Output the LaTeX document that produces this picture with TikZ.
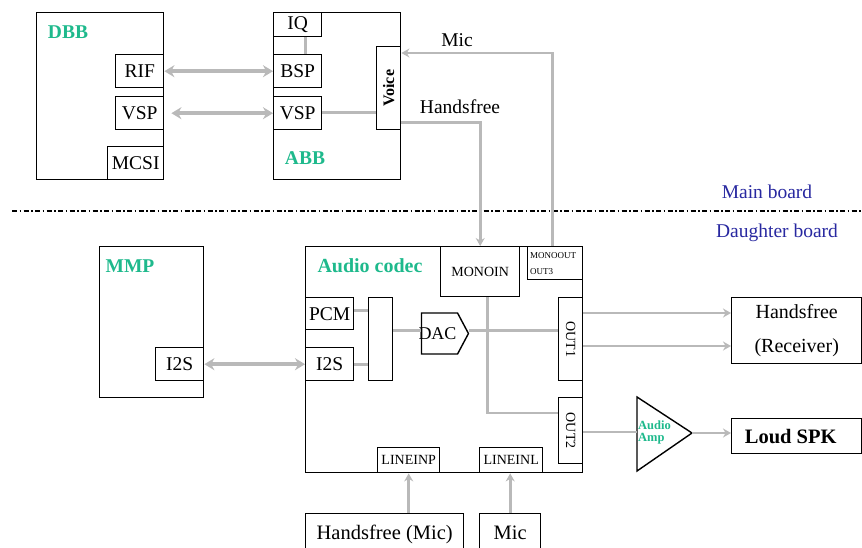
\documentclass[tikz,border=0pt]{standalone}
\usepackage{fontspec}
\setmainfont{Liberation Serif}
\usetikzlibrary{arrows.meta,calc,shapes.symbols}
\definecolor{tgreen}{RGB}{30,185,140}
\definecolor{tblue}{RGB}{40,40,160}
\definecolor{wire}{RGB}{185,185,185}
\tikzset{
  box/.style={draw=black, line width=1.4pt, anchor=north west, inner sep=0pt, font=\fontsize{19.5}{21}\selectfont},
  glab/.style={text=tgreen, font=\bfseries\fontsize{19.5}{21}\selectfont, inner sep=0pt},
  blab/.style={text=tblue, font=\fontsize{19.5}{21}\selectfont, inner sep=0pt},
  plab/.style={font=\fontsize{19.5}{21}\selectfont, inner sep=0pt},
  wline/.style={draw=wire, line width=2.8pt},
  warrow/.style={wline, -{Stealth[length=8pt,width=9pt]}},
  dbl/.style={draw=wire, line width=4pt, {Stealth[length=10pt,width=12pt]}-{Stealth[length=10pt,width=12pt]}},
}
\begin{document}
\begin{tikzpicture}[x=1pt,y=-1pt]
\useasboundingbox (0,0) rectangle (862,547);

% ---------- main board ----------
\node[box, minimum width=127, minimum height=167] (dbb) at (36,12) {};
\node[glab] (dbbl) at (68,32) {DBB};
\node[box, minimum width=48, minimum height=33] (rif) at (115,54) {RIF};
\node[box, minimum width=48, minimum height=33] (vsp1) at (115,96) {VSP};
\node[box, minimum width=56, minimum height=33] (mcsi) at (107,146) {MCSI};

\node[box, minimum width=127, minimum height=167] (abb) at (273,12) {};
\node[glab] (abbl) at (305,158) {ABB};
\node[box, minimum width=48, minimum height=24] (iq) at (273,12) {IQ};
\node[box, minimum width=48, minimum height=33] (bsp) at (273,54) {BSP};
\node[box, minimum width=48, minimum height=33] (vsp2) at (273,96) {VSP};
\node[box, minimum width=24, minimum height=83] (voice) at (376,46) {};
\node[rotate=90, font=\bfseries\fontsize{16}{18}\selectfont, inner sep=0pt] (voicel) at (voice.center) {Voice};

\draw[dbl] (rif.east) -- (bsp.west);
\draw[dbl] ([xshift=7]vsp1.east) -- (vsp2.west);
\draw[wline] ([xshift=8]iq.south) -- ([xshift=8]bsp.north);
\draw[wline] ($(vsp2.east)+(0,-1)$) -- ($(vsp2.east -| voice.west)+(0,-1)$);

\node[plab] (micl) at (457,40) {Mic};
\node[plab] (hfl) at (460,107) {Handsfree};

% separator
\draw[line width=1.4pt, dash pattern=on 5pt off 2.5pt on 1.5pt off 2.5pt] (12,211) -- (862,211);
\node[blab] (mainb) at (767,192) {Main board};
\node[blab] (daughb) at (777,233) {Daughter board};

% ---------- daughter board ----------
\node[box, minimum width=104, minimum height=151] (mmp) at (99,246) {};
\node[glab] (mmpl) at (130,266) {MMP};
\node[box, minimum width=48, minimum height=33] (i2s1) at (155,347) {I2S};

\node[box, minimum width=277, minimum height=226] (codec) at (305,246) {};
\node[glab, font=\bfseries\fontsize{20}{22}\selectfont] (codecl) at (370,266) {Audio codec};
\node[box, minimum width=79, minimum height=50, font=\fontsize{14}{15}\selectfont] (monoin) at (440,246) {MONOIN};
\node[box, minimum width=55, minimum height=33] (monoout) at (527,246) {};
\node[align=left, font=\fontsize{9}{16}\selectfont, inner sep=0pt, anchor=west] (monooutl) at (530,264) {MONOOUT\\OUT3};
\node[box, minimum width=48, minimum height=32] (pcm) at (305,297) {PCM};
\node[box, minimum width=48, minimum height=33] (i2s2) at (305,347) {I2S};
\node[box, minimum width=24, minimum height=83] (mux) at (368,297) {};
\node[draw=black, line width=1.4pt, shape=signal, signal to=east, signal pointer angle=124,
      minimum width=47, minimum height=41, inner sep=0pt, font=\fontsize{18}{20}\selectfont] (dac) at (439.5,333.5) {\hspace*{-4pt}DAC};
\node[box, minimum width=24, minimum height=83] (out1) at (558,297) {};
\node[rotate=-90, font=\fontsize{14}{16}\selectfont, inner sep=0pt] (out1l) at (out1.center) {OUT1};
\node[box, minimum width=24, minimum height=66] (out2) at (558,397) {};
\node[rotate=-90, font=\fontsize{14}{16}\selectfont, inner sep=0pt] (out2l) at (out2.center) {OUT2};
\node[box, minimum width=62, minimum height=25, font=\fontsize{14}{15}\selectfont] (lineinp) at (377,447) {LINEINP};
\node[box, minimum width=63, minimum height=25, font=\fontsize{14}{15}\selectfont] (lineinl) at (479,447) {LINEINL};

\node[box, minimum width=130, minimum height=66, align=center, font=\fontsize{20}{34}\selectfont] (hf) at (731,297) {Handsfree\\(Receiver)};
\node[box, minimum width=130, minimum height=35, font=\bfseries\fontsize{20.5}{22}\selectfont] (spk) at (731,418) {\hspace*{-12pt}Loud SPK};

% amplifier
\coordinate (ampin) at (637,432);
\coordinate (ampout) at (692,433);
\draw[line width=1.4pt] (637,397) -- (692,433) -- (637,471) -- cycle;
\node[align=left, text=tgreen, font=\bfseries\fontsize{12.5}{12}\selectfont, inner sep=0pt, anchor=west] (ampl) at (638,432) {Audio\\Amp};

\node[box, minimum width=158, minimum height=42, text height=14pt, text depth=5pt, font=\fontsize{20.5}{22}\selectfont] (hfmic) at (305,513) {Handsfree (Mic)};
\node[box, minimum width=61, minimum height=42, text height=14pt, text depth=5pt, font=\fontsize{20.5}{22}\selectfont] (mic2) at (479,513) {Mic};

% connectors
\draw[dbl] (i2s1.east) -- ($(i2s1.east -| i2s2.west)$);
\draw[warrow] ($(monoout.north)+(-3,0)$) |- ($(voice.north east)+(0,7)$);
\draw[warrow] ($(voice.south east)+(0,-8)$) -| (monoin.north);
\draw[wline] ($(pcm.east)+(0,-3)$) -- ($(pcm.east -| mux.west)+(0,-3)$);
\draw[wline] (i2s2.east) -- (i2s2.east -| mux.west);
\draw[wline] ($(dac.west -| mux.east)+(0,-3)$) -- ($(dac.west)+(0,-3)$);
\draw[wline] ($(dac.east)+(0,-3)$) -- ($(dac.east -| out1.west)+(0,-3)$);
\draw[wline] ($(monoin.south)+(7,0)$) |- ($(out2.north west)+(0,16)$);
\draw[warrow] ($(out1.north east)+(0,16)$) -- ($(out1.north east -| hf.west)+(0,16)$);
\draw[warrow] ($(out1.north east)+(0,49)$) -- ($(out1.north east -| hf.west)+(0,49)$);
\draw[wline] (out2.east |- ampin) -- (ampin);
\draw[warrow] (ampout) -- (ampout -| spk.west);
\draw[warrow] (lineinp.south |- hfmic.north) -- (lineinp.south);
\draw[warrow] (mic2.north) -- (mic2.north |- lineinl.south);
\end{tikzpicture}
\end{document}
